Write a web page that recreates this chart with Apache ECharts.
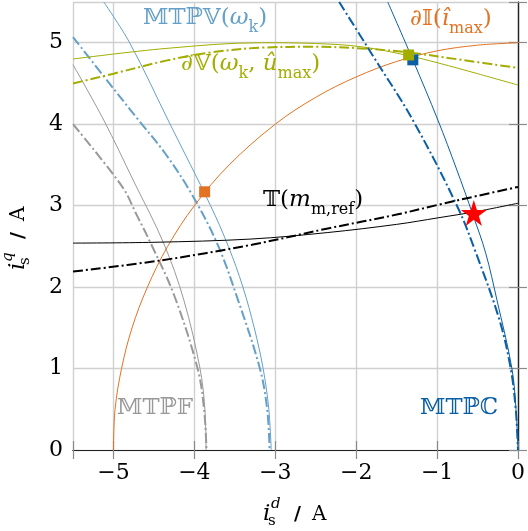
<!DOCTYPE html>
<html>
<head>
<meta charset="utf-8">
<script src="https://cdn.jsdelivr.net/npm/echarts@6/dist/echarts.min.js"></script>
<style>
  html, body { margin: 0; padding: 0; background: #fff; }
  #chart { width: 528px; height: 531px; }
</style>
</head>
<body>
<div id="chart"></div>
<script>
// tick labels
const xTicks = [-5, -4, -3, -2, -1, 0]
const yTicks = [0, 1, 2, 3, 4, 5]

// curves, [i_d, i_q]
const mtpvSolid = [[-5.12, 5.5], [-4.80, 5.0], [-4.30, 4.0], [-3.80, 3.0], [-3.58, 2.5], [-3.40, 2.0], [-3.26, 1.5], [-3.15, 1.0], [-3.08, 0.5], [-3.05, 0]]
const mtpvDash = [[-5.5, 5.07], [-5.05, 4.5], [-4.69, 4.05], [-4.36, 3.64], [-4.05, 3.17], [-3.72, 2.54], [-3.46, 1.84], [-3.19, 1.0], [-3.10, 0.5], [-3.07, 0]]
const mtpfSolid = [[-5.5, 4.73], [-5.12, 4.05], [-4.75, 3.3], [-4.38, 2.54], [-4.13, 1.84], [-3.93, 1.0], [-3.87, 0.5], [-3.855, 0]]
const mtpfDash = [[-5.5, 4.0], [-4.89, 3.23], [-4.71, 2.88], [-4.54, 2.54], [-4.25, 1.9], [-3.96, 1.0], [-3.88, 0.5], [-3.85, 0]]
const currentLimit = [[-5, 0], [-4.98, 0.5], [-4.9, 1.0], [-4.77, 1.5], [-4.58, 2.0], [-4.33, 2.5], [-4.0, 3.0], [-3.57, 3.5], [-3.0, 4.0], [-2.5, 4.33], [-2.0, 4.58], [-1.5, 4.77], [-1.0, 4.9], [-0.5, 4.97], [0, 5.0]]
const voltSolid = [[-5.5, 4.8], [-4.35, 4.93], [-3.17, 5.0], [-2.5, 4.99], [-1.93, 4.95], [-1.35, 4.84], [-0.98, 4.75], [-0.5, 4.62], [0, 4.48]]
const voltDash = [[-5.5, 4.5], [-5.0, 4.62], [-4.35, 4.78], [-3.8, 4.88], [-3.16, 4.94], [-2.5, 4.95], [-1.93, 4.93], [-1.35, 4.88], [-0.7, 4.79], [0, 4.69]]
const mtpcSolid = [[-1.61, 5.5], [-1.30, 4.79], [-0.99, 4.05], [-0.76, 3.45], [-0.555, 2.88], [-0.40, 2.42], [-0.26, 1.84], [-0.075, 1.0], [-0.025, 0.5], [0, 0]]
const mtpcDash = [[-2.21, 5.5], [-1.80, 4.85], [-1.30, 4.05], [-0.75, 2.99], [-0.52, 2.42], [-0.23, 1.6], [-0.09, 1.0], [-0.028, 0.5], [0, 0]]
const torqueSolid = [[-5.5, 2.54], [-4.5, 2.55], [-3.3, 2.59], [-2.35, 2.67], [-1.5, 2.77], [-0.99, 2.85], [-0.5, 2.93], [0, 3.03]]
const torqueDash = [[-5.5, 2.19], [-4.4, 2.33], [-3.29, 2.52], [-2.35, 2.72], [-1.5, 2.89], [-0.99, 3.01], [-0.5, 3.12], [0, 3.23]]

// markers
const orangeSq = [[-3.873, 3.17]]
const blueSq = [[-1.30, 4.79]]
const greenSq = [[-1.352, 4.85]]
const refPoint = [[-0.546, 2.91]]

const LBLUE = '#64a0c8'
const DBLUE = '#0a5fa5'
const ORANGE = '#e37222'
const GREEN = '#a2ad00'
const GRAY = '#999999'

const SERIF = 'DejaVu Serif'
const DASHDOT = [10, 3, 2, 3]
const STAR = 'path://M50,0 L61.8,35.4 L99,35.4 L68.9,57.3 L80.4,92.7 L50,70.8 L19.6,92.7 L31.1,57.3 L1,35.4 L38.2,35.4 Z'

const minus = v => (v < 0 ? '\u2212' + Math.abs(v) : '' + v)

const curve = (data, color, width, type, z) => ({
  type: 'line',
  data: data,
  smooth: 0.35,
  showSymbol: false,
  silent: true,
  z: z || 2,
  lineStyle: { color: color, width: width, type: type || 'solid' },
})

const marker = (data, color, symbol, size, z) => ({
  type: 'scatter',
  data: data,
  symbol: symbol,
  symbolSize: size,
  silent: true,
  z: z,
  itemStyle: { color: color, opacity: 1 },
})

// rich text styles for the math labels
const richFor = (color) => ({
  r: { fontSize: 23, fontFamily: SERIF, fill: color, verticalAlign: 'top', lineHeight: 26 },
  i: { fontSize: 23, fontFamily: SERIF, fontStyle: 'italic', fill: color, verticalAlign: 'top', lineHeight: 26 },
  s: { fontSize: 16, fontFamily: SERIF, fill: color, verticalAlign: 'top', lineHeight: 16, padding: [13, 0, 0, 0] },
})

const label = (x, y, text, color) => ({
  type: 'text', x: x, y: y, z: 50, silent: true,
  style: { text: text, rich: richFor(color), verticalAlign: 'top' },
})

// i_s^x / A built from pieces
const axisName = (sup) => [
  { type: 'text', x: 0, y: 0, style: { text: 'i', fontSize: 23, fontStyle: 'italic', fontFamily: SERIF, fill: '#000', verticalAlign: 'middle' } },
  { type: 'text', x: 5, y: 7, style: { text: 's', fontSize: 15, fontFamily: SERIF, fill: '#000', verticalAlign: 'middle' } },
  { type: 'text', x: 8, y: -10, style: { text: sup, fontSize: 15, fontStyle: 'italic', fontFamily: SERIF, fill: '#000', verticalAlign: 'middle' } },
  { type: 'text', x: 31, y: 1, style: { text: '/', fontSize: 19, fontWeight: 'bold', fontFamily: SERIF, fill: '#000', verticalAlign: 'middle' } },
  { type: 'text', x: 49, y: 1, style: { text: 'A', fontSize: 20, fontFamily: SERIF, fill: '#000', verticalAlign: 'middle' } },
]

const chart = echarts.init(document.getElementById('chart'), null, { renderer: 'canvas' })

const axisCommon = {
  type: 'value',
  axisLine: { show: true, lineStyle: { color: '#222', width: 1.2 } },
  axisTick: { show: true, inside: true, length: 9, lineStyle: { color: '#8a8a8a', width: 1.2 } },
}

chart.setOption({
  animation: false,
  grid: { left: 73, right: 7, top: 2, bottom: 81, containLabel: false },
  xAxis: [
    Object.assign({}, axisCommon, {
      min: -5.5, max: 0, splitNumber: 6, position: 'bottom',
      splitLine: { show: true, lineStyle: { color: '#d0d0d0', width: 1.4 } },
      axisLabel: {
        margin: 12, color: '#000', fontSize: 22, fontFamily: SERIF,
        formatter: v => (xTicks.includes(v) ? minus(v) : ''),
      },
    }),
    Object.assign({}, axisCommon, {
      min: -5.5, max: 0, splitNumber: 6, position: 'top',
      splitLine: { show: false }, axisLabel: { show: false },
    }),
  ],
  yAxis: [
    Object.assign({}, axisCommon, {
      min: 0, max: 5.5, splitNumber: 6, position: 'left',
      splitLine: { show: true, lineStyle: { color: '#d0d0d0', width: 1.4 } },
      axisLabel: {
        margin: 10, color: '#000', fontSize: 22, fontFamily: SERIF,
        formatter: v => (yTicks.includes(v) ? minus(v) : ''),
      },
    }),
    Object.assign({}, axisCommon, {
      min: 0, max: 5.5, splitNumber: 6, position: 'right',
      splitLine: { show: false }, axisLabel: { show: false },
    }),
  ],
  series: [
    curve(mtpfSolid, GRAY, 1),
    curve(mtpfDash, GRAY, 2, DASHDOT),
    curve(mtpvSolid, LBLUE, 1),
    curve(mtpvDash, LBLUE, 2, DASHDOT),
    curve(currentLimit, ORANGE, 1),
    curve(voltSolid, GREEN, 1),
    curve(voltDash, GREEN, 2, DASHDOT),
    curve(mtpcSolid, DBLUE, 1),
    curve(mtpcDash, DBLUE, 2, DASHDOT),
    curve(torqueSolid, '#000', 1),
    curve(torqueDash, '#000', 2, DASHDOT),
    marker(orangeSq, ORANGE, 'rect', 11, 10),
    marker(blueSq, DBLUE, 'rect', 11, 10),
    marker(greenSq, GREEN, 'rect', 11, 11),
    marker(refPoint, '#ff0000', STAR, 26, 12),
  ],
  graphic: [
    label(143, 7, '{r|\u{1D544}\u{1D54B}\u2119\u{1D54D}(}{i|\u03C9}{s|k}{r|)}', LBLUE),
    label(410, 8, '{i|\u2202}{r|\u{1D540}(}{i|\u00EE}{s|max}{r|)}', ORANGE),
    label(181, 53, '{i|\u2202}{r|\u{1D54D}(}{i|\u03C9}{s|k}{r|, }{i|\u00FB}{s|max}{r|)}', GREEN),
    label(263, 189, '{r|\u{1D54B}(}{i|m}{s|m,ref}{r|)}', '#000'),
    label(117, 397, '{r|\u{1D544}\u{1D54B}\u2119\u{1D53D}}', GRAY),
    label(420, 397, '{r|\u{1D544}\u{1D54B}\u2119\u2102}', DBLUE),
    { type: 'group', x: 263, y: 514, children: axisName('d') },
    { type: 'group', x: 18, y: 270, rotation: Math.PI / 2, children: axisName('q') },
  ],
})
</script>
</body>
</html>
